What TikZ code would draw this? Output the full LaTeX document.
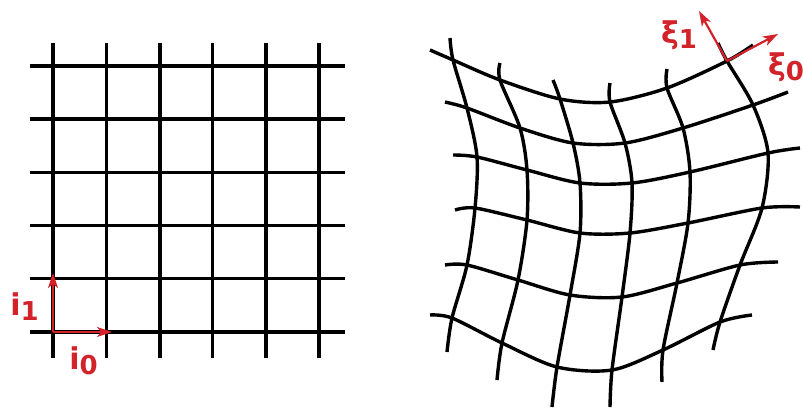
\documentclass[tikz,border=0pt]{standalone}
\usepackage{fontspec}
\usetikzlibrary{arrows.meta}
\newfontfamily\labelfont{DejaVu Sans}
\definecolor{axisred}{RGB}{210,35,42}
\newcommand{\veclabel}[2]{{\labelfont\bfseries\fontsize{30}{30}\selectfont #1\raisebox{-5pt}{\fontsize{26}{26}\selectfont #2}}}

\begin{document}
\begin{tikzpicture}[x=1pt,y=-1pt,
    grid/.style={line width=3.8pt},
    warp/.style={line width=3.4pt},
    axis/.style={draw=axisred,line width=2.2pt,-{Stealth[length=15pt,width=10pt,inset=4pt]}},
    axislabel/.style={text=axisred,inner sep=0pt}]
    \useasboundingbox (0,0) rectangle (803,407);

    % Regular grid
    \draw[grid] (53,43) -- (53,358);
    \draw[grid] (106.5,43) -- (106.5,358);
    \draw[grid] (160,43) -- (160,358);
    \draw[grid] (212.5,43) -- (212.5,358);
    \draw[grid] (266,43) -- (266,358);
    \draw[grid] (319,43) -- (319,358);
    \draw[grid] (30,66) -- (345,66);
    \draw[grid] (30,119) -- (345,119);
    \draw[grid] (30,172.5) -- (345,172.5);
    \draw[grid] (30,225.5) -- (345,225.5);
    \draw[grid] (30,278.5) -- (345,278.5);
    \draw[grid] (30,332) -- (345,332);

    % Deformed grid
    \draw[warp] plot[smooth] coordinates {(430,50) (453,60) (500,80) (560,99) (610,102) (667,88) (727,61) (753,45)};
    \draw[warp] plot[smooth] coordinates {(445,102) (467,108) (520,128) (573,143) (625,143) (683,128) (753,105) (788,92)};
    \draw[warp] plot[smooth] coordinates {(453,155) (477,157) (527,170) (580,183) (632,183) (690,172) (768,153) (800,148)};
    \draw[warp] plot[smooth] coordinates {(455,210) (475,208) (527,220) (580,233) (630,233) (688,223) (762,208) (800,207)};
    \draw[warp] plot[smooth] coordinates {(445,265) (467,265) (518,280) (570,295) (622,297) (677,283) (740,265) (778,262)};
    \draw[warp] plot[smooth] coordinates {(430,315) (452,318) (502,343) (557,367) (612,370) (663,350) (720,322) (752,315)};
    \draw[warp] plot[smooth] coordinates {(450,38) (453,60) (467,108) (477,157) (475,208) (467,265) (452,318) (447,352)};
    \draw[warp] plot[smooth] coordinates {(500,63) (500,80) (520,128) (527,170) (527,220) (518,280) (502,343) (497,380)};
    \draw[warp] plot[smooth] coordinates {(553,80) (560,99) (573,143) (580,183) (580,233) (570,295) (557,367) (552,407)};
    \draw[warp] plot[smooth] coordinates {(610,83) (610,102) (625,143) (632,183) (630,233) (622,297) (612,370) (610,407)};
    \draw[warp] plot[smooth] coordinates {(667,69) (667,88) (683,128) (690,172) (688,223) (677,283) (663,350) (662,382)};
    \draw[warp] plot[smooth] coordinates {(718,43) (727,61) (753,105) (768,153) (762,208) (740,265) (720,322) (713,350)};

    % Axes
    \coordinate (o) at (53,332);
    \coordinate (e0) at (112,332);
    \coordinate (e1) at (53,273);
    \draw[axis] (o) -- (e0);
    \draw[axis] (o) -- (e1);
    \node[axislabel] (i0) at (83.5,361) {\veclabel{i}{0}};
    \node[axislabel] (i1) at (24.5,307) {\veclabel{i}{1}};

    \coordinate (p) at (727,61);
    \coordinate (f0) at (778,34);
    \coordinate (f1) at (699,11);
    \draw[axis] (p) -- (f0);
    \draw[axis] (p) -- (f1);
    \node[axislabel] (xi0) at (786,67) {\veclabel{ξ}{0}};
    \node[axislabel] (xi1) at (679,35) {\veclabel{ξ}{1}};
\end{tikzpicture}
\end{document}
